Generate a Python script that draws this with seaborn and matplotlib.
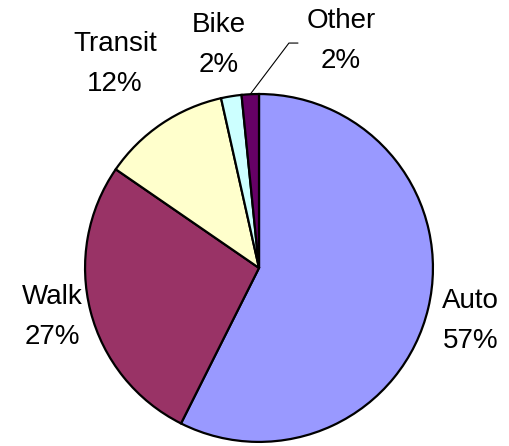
import matplotlib
matplotlib.use("Agg")
import matplotlib.pyplot as plt
import seaborn as sns
import numpy as np

# data
modes = ["Auto", "Walk", "Transit", "Bike", "Other"]
shares = [57.4, 27.2, 11.9, 1.9, 1.6]
colors = ["#9999FF", "#993366", "#FFFFCC", "#CCFFFF", "#660066"]

sns.set_theme(style="white")
plt.rcParams['font.family'] = ['Liberation Sans', 'DejaVu Sans']

fig = plt.figure(figsize=(5.10, 4.46), dpi=100)
ax = fig.add_axes([0, 0, 1, 1])

wedges, _ = ax.pie(shares, colors=colors, startangle=90, counterclock=False,
                   radius=1.0,
                   wedgeprops=dict(edgecolor="black", linewidth=1.6))

ax.set_xlim(-1.489, 1.443)
ax.set_ylim(-1.023, 1.540)
ax.set_aspect("equal")
ax.axis("off")

# label positions (Excel-style manual placement)
label_pos = {
    "Auto": (1.218, -0.305),
    "Walk": (-1.19, -0.282),
    "Transit": (-0.828, 1.172),
    "Bike": (-0.230, 1.282),
    "Other": (0.471, 1.305),
}
for name, val in zip(modes, shares):
    x, y = label_pos[name]
    ax.text(x, y, f"{name}\n{round(val):d}%", ha="center", va="center",
            fontsize=20, linespacing=1.7, color="black")

# leader line for Other
cum = np.cumsum(shares)
mid = (cum[-1] - shares[-1] / 2) / sum(shares)
ang = np.deg2rad(90 - mid * 360)
x0, y0 = np.cos(ang), np.sin(ang)
ax.plot([x0, 0.172, 0.224], [y0, 1.293, 1.293], color="black", lw=0.8)

fig.savefig("out.png", dpi=100)
